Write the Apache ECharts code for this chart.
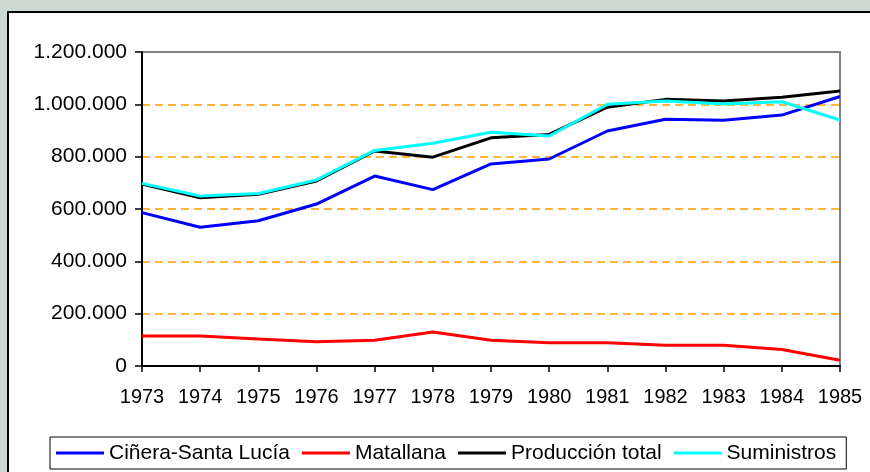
<!DOCTYPE html>
<html>
<head>
<meta charset="utf-8">
<script src="https://cdn.jsdelivr.net/npm/echarts@6/dist/echarts.min.js"></script>
<style>
  html, body { margin: 0; padding: 0; background: #ccd8d2; }
  #chart { width: 870px; height: 472px; }
</style>
</head>
<body>
<div id="chart"></div>
<script>
// Coal output of the Ciñera-Santa Lucía and Matallana pits, 1973-1985 (tonnes)
const years = ['1973', '1974', '1975', '1976', '1977', '1978', '1979', '1980', '1981', '1982', '1983', '1984', '1985'];
const cinera = [586000, 530000, 555000, 619000, 726000, 674000, 772000, 791000, 898000, 943000, 939000, 959000, 1030000];
const matallana = [115000, 115000, 103000, 93000, 98000, 130000, 98000, 89000, 89000, 79000, 79000, 63000, 22000];
const produccion = [695000, 643000, 656000, 707000, 822000, 798000, 872000, 885000, 989000, 1019000, 1013000, 1027000, 1051000];
const suministros = [698000, 650000, 659000, 711000, 824000, 851000, 893000, 879000, 1000000, 1013000, 1001000, 1010000, 940000];
const yTicks = [0, 200000, 400000, 600000, 800000, 1000000, 1200000];

const FONT = 'Liberation Sans, Arial, sans-serif';

function fmt(v) {
  return String(v).replace(/\B(?=(\d{3})+(?!\d))/g, '.');
}

const chart = echarts.init(document.getElementById('chart'), null, { renderer: 'canvas' });

function lineSeries(name, data, color) {
  return {
    name: name,
    type: 'line',
    data: data,
    symbol: 'none',
    smooth: false,
    lineStyle: { color: color, width: 3 },
    itemStyle: { color: color }
  };
}

chart.setOption({
  animation: false,
  backgroundColor: 'transparent',
  graphic: [{
    type: 'rect',
    z: -10,
    shape: { x: 8, y: 12, width: 900, height: 500 },
    style: { fill: '#ffffff', stroke: '#000000', lineWidth: 2 }
  }],
  grid: {
    left: 142, right: 30, top: 52, bottom: 106,
    show: true,
    borderColor: '#808080',
    borderWidth: 2,
    backgroundColor: 'transparent'
  },
  legend: {
    left: 50, top: 437,
    orient: 'horizontal',
    padding: [5, 10, 5, 6],
    borderColor: '#000000',
    borderWidth: 1,
    backgroundColor: '#ffffff',
    itemWidth: 48,
    itemHeight: 3,
    itemGap: 12,
    icon: 'rect',
    textStyle: { fontFamily: FONT, fontSize: 21, color: '#000000', lineHeight: 22 },
    data: ['Ciñera-Santa Lucía', 'Matallana', 'Producción total', 'Suministros']
  },
  xAxis: {
    type: 'category',
    data: years,
    boundaryGap: false,
    axisLine: { lineStyle: { color: '#000000', width: 2 } },
    axisTick: { show: true, length: 6, inside: false, lineStyle: { color: '#000000', width: 1.5 } },
    axisLabel: { fontFamily: FONT, fontSize: 20, color: '#000000', margin: 21, interval: 0 },
    splitLine: { show: false }
  },
  yAxis: {
    type: 'value',
    min: yTicks[0],
    max: yTicks[yTicks.length - 1],
    interval: yTicks[1] - yTicks[0],
    axisLine: { show: true, lineStyle: { color: '#000000', width: 2 } },
    axisTick: { show: true, length: 7, lineStyle: { color: '#000000', width: 1.5 } },
    axisLabel: { fontFamily: FONT, fontSize: 21, color: '#000000', margin: 15, formatter: fmt },
    splitLine: {
      show: true,
      lineStyle: {
        color: ['rgba(0,0,0,0)', '#ff9f00', '#ff9f00', '#ff9f00', '#ff9f00', '#ff9f00', 'rgba(0,0,0,0)'],
        type: [8, 5],
        width: 1.5
      }
    }
  },
  series: [
    lineSeries('Ciñera-Santa Lucía', cinera, '#0000ff'),
    lineSeries('Matallana', matallana, '#ff0000'),
    lineSeries('Producción total', produccion, '#000000'),
    lineSeries('Suministros', suministros, '#00ffff')
  ]
});
</script>
</body>
</html>
